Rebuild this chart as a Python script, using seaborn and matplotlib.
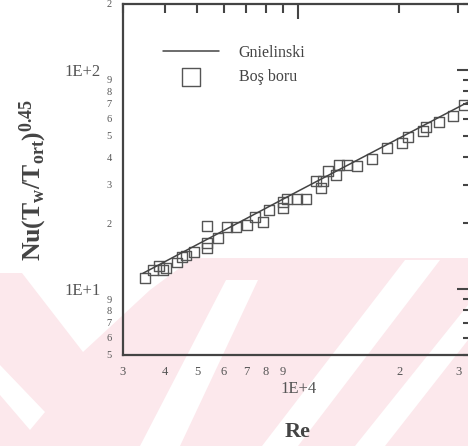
import matplotlib
matplotlib.use("Agg")
import matplotlib.pyplot as plt
import matplotlib.ticker as mticker
from matplotlib.patches import Polygon
import seaborn as sns
import pandas as pd
import numpy as np

re_data = [3490, 3690, 3840, 3950, 4030, 4350, 4500, 4630, 4890,
           5340, 5340, 5340, 5760, 6130, 6520, 7040, 7430, 7850, 8190,
           9010, 9010, 9260, 9920, 10550, 11300, 11700, 11860, 12280,
           12970, 13240, 13990, 14990, 16610, 18420, 20410, 21270,
           23590, 24080, 26330, 28990, 31260]
nu_data = [11.2, 12.2, 12.7, 12.2, 12.5, 13.2, 14.0, 14.2, 14.8,
           19.4, 16.2, 15.4, 17.1, 19.2, 19.2, 19.6, 21.3, 20.2, 23.0,
           25.0, 23.5, 25.8, 25.8, 25.8, 31.2, 28.9, 31.2, 34.6,
           33.2, 36.9, 36.9, 36.5, 39.3, 44.1, 46.5, 49.5,
           52.7, 55.0, 57.9, 61.7, 69.3]

# Gnielinski correlation (straight line on log-log)
re_gn = [3440, 10000, 33000]
nu_gn = [11.8, 28.0, 72.9]

sns.set_theme(style="white")
plt.rcParams["font.family"] = ["Liberation Serif", "DejaVu Serif"]
plt.rcParams["mathtext.fontset"] = "custom"
plt.rcParams["mathtext.rm"] = "Liberation Serif"
plt.rcParams["mathtext.bf"] = "Liberation Serif:bold"
plt.rcParams["mathtext.it"] = "Liberation Serif:italic"

df = pd.DataFrame({"Re": re_data, "Nu": nu_data})
df_gn = pd.DataFrame({"Re": re_gn, "Nu": nu_gn})

W, H = 468, 446
fig = plt.figure(figsize=(W / 100, H / 100), dpi=100)

# faint pink watermark behind the scan (pixel coords, y down)
def px(points):
    return [(x / W, 1 - y / H) for x, y in points]

pink = "#fce8ec"
wm = [
    [(193, 258), (468, 258), (468, 446), (0, 446), (0, 273), (22, 273),
     (83, 352), (150, 290)],
]
white = [
    [(140, 446), (180, 446), (258, 280), (226, 280)],
    [(262, 446), (298, 446), (440, 260), (405, 260)],
    [(355, 446), (385, 446), (468, 340), (468, 305)],
    [(0, 365), (0, 395), (30, 430), (45, 412)],
]
for poly in wm:
    fig.add_artist(Polygon(px(poly), closed=True, transform=fig.transFigure,
                           facecolor=pink, edgecolor="none", zorder=0))
for poly in white:
    fig.add_artist(Polygon(px(poly), closed=True, transform=fig.transFigure,
                           facecolor="white", edgecolor="none", zorder=0.5))

ax = fig.add_axes([123 / W, 91 / H, 349 / W, 351 / H])
ax.set_facecolor("none")
ax.set_zorder(2)

sns.lineplot(data=df_gn, x="Re", y="Nu", ax=ax, color="#444444",
             linewidth=1.1, label="Gnielinski")
sns.scatterplot(data=df, x="Re", y="Nu", ax=ax, marker="s", s=48,
                facecolor="none", edgecolor="#555555", linewidth=1.0,
                label="Boş boru")

ax.set_xscale("log")
ax.set_yscale("log")
ax.set_xlim(3000, 33000)
ax.set_ylim(5, 200)

def major_fmt(v, pos):
    return f"1E+{int(round(np.log10(v)))}"

def minor_fmt(v, pos):
    return f"{int(round(v / 10 ** np.floor(np.log10(v) + 1e-9)))}"

for axis in (ax.xaxis, ax.yaxis):
    axis.set_major_locator(mticker.LogLocator(base=10, subs=(1.0,)))
    axis.set_minor_locator(mticker.LogLocator(base=10, subs=range(2, 10)))
    axis.set_major_formatter(mticker.FuncFormatter(major_fmt))
    axis.set_minor_formatter(mticker.FuncFormatter(minor_fmt))

ax.tick_params(which="both", direction="in", top=True, right=True,
               color="#444444", width=1.5, labelcolor="#555555")
ax.tick_params(which="major", length=10.5)
ax.tick_params(which="minor", length=6.5)
ax.tick_params(axis="x", which="major", labelsize=12, pad=19)
ax.tick_params(axis="x", which="minor", labelsize=9, pad=8)
ax.tick_params(axis="y", which="major", labelsize=12, pad=16)
ax.tick_params(axis="y", which="minor", labelsize=7.5, pad=8)

for sp in ax.spines.values():
    sp.set_color("#444444")
    sp.set_linewidth(1.6)

ax.set_xlabel("Re", fontsize=16, fontweight="bold", color="#444444")
ax.xaxis.set_label_coords(175 / 349, -0.19)
ax.set_ylabel(r"$\mathbf{Nu(T_{w}/T_{ort})^{0.45}}$", fontsize=18.5,
              color="#444444")
ax.yaxis.set_label_coords(-74 / 349, 0.5)

ax.legend(loc="center left", bbox_to_anchor=(40 / 349, 0.826), frameon=False,
          fontsize=11.5, handlelength=3.5, handletextpad=1.25,
          labelspacing=0.55, borderpad=0, borderaxespad=0, markerscale=1.9,
          labelcolor="#444444")

fig.savefig("out.png", dpi=100)
